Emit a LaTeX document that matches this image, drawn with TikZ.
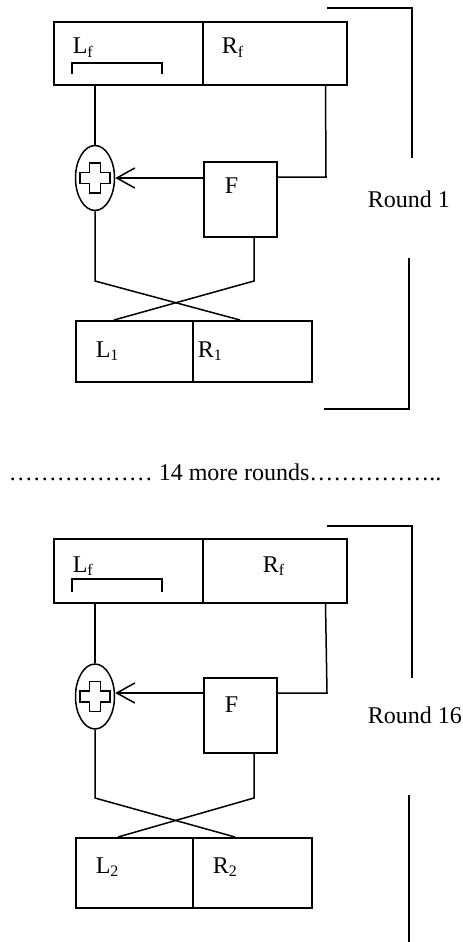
\documentclass[tikz,border=0pt]{standalone}
\usepackage{fontspec}
\setmainfont{Liberation Serif}
\usetikzlibrary{shapes.geometric,arrows.meta}

\begin{document}
\begin{tikzpicture}[x=0.5pt,y=-0.5pt,line width=0.75pt,
  every node/.style={font=\fontsize{12pt}{14pt}\selectfont},
  blk/.style={draw, anchor=north west, inner sep=0pt},
  txt/.style={anchor=base west, inner sep=0pt},
  xor/.style={draw, ellipse, minimum width=19.5pt, minimum height=32.5pt, inner sep=0pt},
  fbox/.style={draw, minimum width=36.5pt, minimum height=37.5pt, inner sep=0pt},
  barb/.style={-{Straight Barb[length=9pt,width=10pt]}}]

\useasboundingbox (0,0) rectangle (462,942);

%round 1: top block
\node[blk, minimum width=74.5pt, minimum height=31.5pt] (lf1) at (53,21) {};
\node[blk, minimum width=72pt, minimum height=31.5pt] (rf1) at (202,21) {};
\node[txt] (lf1t) at (72,54) {L\textsubscript{f}};
\node[txt] (rf1t) at (221,54) {R\textsubscript{f}};
\draw (72,74) -- (72,63) -- (162,63) -- (162,74);

%round 1: xor and F
\node[xor] (xor1) at (95,178) {};
\node[fbox] (f1) at (240.5,199.5) {};
\node[txt] (f1t) at (224,193) {F};
\coordinate (rj1) at (326,177);
\draw (xor1.north |- lf1.south) -- (xor1.north);
\draw ([xshift=-11pt]rf1.south east) -- (rj1) -- (f1.east |- rj1);
\draw[barb] (f1.west |- xor1.east) -- (xor1.east);

%round 1: swap
\node[blk, minimum width=58.5pt, minimum height=30.5pt] (l1) at (75,320) {};
\node[blk, minimum width=59.5pt, minimum height=30.5pt] (r1) at (192,320) {};
\node[txt] (l1t) at (95,357) {L\textsubscript{1}};
\node[txt] (r1t) at (197,357) {R\textsubscript{1}};
\coordinate (cr1) at (254,281);
\draw (xor1.south) -- (xor1.south |- cr1) -- ([xshift=24pt]r1.north west);
\draw (f1.south -| cr1) -- (cr1) -- ([xshift=19.5pt]l1.north west);

%round 1: bracket
\draw (327,8) -- (412,8) -- (412,158);
\draw (409,258) -- (409,409) -- (324,409);
\node[txt] (rd1) at (367,207) {Round 1};

%middle line
\node[txt] (more) at (8,480) {……………… 14 more rounds……………..};

%round 16: top block
\node[blk, minimum width=74.5pt, minimum height=32pt] (lf2) at (53,538) {};
\node[blk, minimum width=72pt, minimum height=32pt] (rf2) at (202,538) {};
\node[txt] (lf2t) at (72,572) {L\textsubscript{f}};
\node[txt] (rf2t) at (262,572) {R\textsubscript{f}};
\draw (72,592) -- (72,579) -- (162,579) -- (162,592);

%round 16: xor and F
\node[xor] (xor2) at (95,696.5) {};
\node[fbox] (f2) at (240.5,715.5) {};
\node[txt] (f2t) at (224,712) {F};
\coordinate (rj2) at (327,693);
\draw (xor2.north |- lf2.south) -- (xor2.north);
\draw ([xshift=-11pt]rf2.south east) -- (rj2) -- (f2.east |- rj2);
\draw[barb] (f2.west |- rj2) -- (xor2.east |- rj2);

%round 16: swap
\node[blk, minimum width=58.5pt, minimum height=35pt] (l2) at (75,837) {};
\node[blk, minimum width=59.5pt, minimum height=35pt] (r2) at (192,837) {};
\node[txt] (l2t) at (95,873) {L\textsubscript{2}};
\node[txt] (r2t) at (212,873) {R\textsubscript{2}};
\coordinate (cr2) at (254,798);
\draw (xor2.south) -- (xor2.south |- cr2) -- ([xshift=21.5pt]r2.north west);
\draw (f2.south -| cr2) -- (cr2) -- ([xshift=21.5pt]l2.north west);

%round 16: bracket
\draw (327,526) -- (412,526) -- (412,678);
\draw (409,795) -- (409,942);
\node[txt] (rd2) at (367,723) {Round 16};

%plus signs in the xor
\foreach \c in {xor1,xor2}
\draw[shift={(\c.center)}] (-5.5,-15) -- (5.5,-15) -- (5.5,-5.5) -- (15,-5.5) -- (15,5.5) -- (5.5,5.5) -- (5.5,15) -- (-5.5,15) -- (-5.5,5.5) -- (-15,5.5) -- (-15,-5.5) -- (-5.5,-5.5) -- cycle;

\end{tikzpicture}
\end{document}
